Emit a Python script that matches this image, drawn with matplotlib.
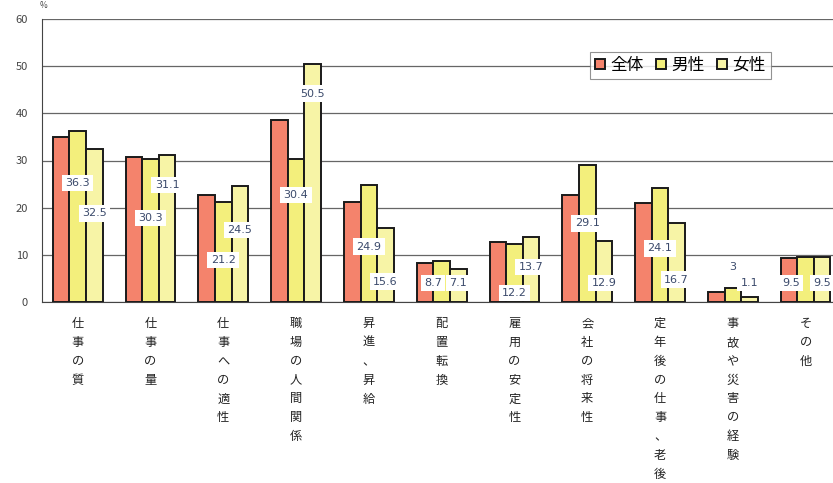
import matplotlib.pyplot as plt
import numpy as np

plt.rcParams['font.family'] = ['Noto Sans CJK JP', 'DejaVu Sans']

categories = ['仕事の質', '仕事の量', '仕事への適性', '職場の人間関係', '昇進、昇給',
              '配置転換', '雇用の安定性', '会社の将来性', '定年後の仕事、老後',
              '事故や災害の経験', 'その他']
total = [35.0, 30.7, 22.7, 38.6, 21.2, 8.2, 12.7, 22.7, 21.0, 2.1, 9.4]
male = [36.3, 30.3, 21.2, 30.4, 24.9, 8.7, 12.2, 29.1, 24.1, 3, 9.5]
female = [32.5, 31.1, 24.5, 50.5, 15.6, 7.1, 13.7, 12.9, 16.7, 1.1, 9.5]
series_names = ['全体', '男性', '女性']

# where the value boxes sit (y in data units, x shift in bar units), as in the original
label_y_male = [25.2, 17.8, 8.9, 22.7, 11.7, 4.0, 1.9, 16.7, 11.4, 7.4, 4.0]
label_y_female = [18.8, 24.8, 15.3, 44.2, 4.3, 4.0, 7.4, 4.0, 4.7, 4.0, 4.0]
label_dx_male = [0, 0, 0, 0, 0, -0.12, 0, 0, 0, 0, -0.2]

colors = ['#F4836C', '#F3EF7C', '#F7F4A6']

fig = plt.figure(figsize=(8.33, 4.83), dpi=100)
ax = fig.add_axes([42 / 833, 1 - 302 / 483, 800 / 833, 283 / 483])

x = np.arange(len(categories))
w = 0.228
for i, (vals, c) in enumerate(zip([total, male, female], colors)):
    ax.bar(x + (i - 1) * w, vals, w, color=c, edgecolor='#1a1a1a',
           linewidth=1.4, label=series_names[i], zorder=3)

box = dict(boxstyle='square,pad=0.3', fc='white', ec='none')
for i in range(len(categories)):
    ax.text(x[i] + label_dx_male[i], label_y_male[i], f'{male[i]:g}', ha='center',
            va='center', fontsize=8, color='#3b4a6b', bbox=box, zorder=5,
            family='DejaVu Sans')
    ax.text(x[i] + w, label_y_female[i], f'{female[i]:g}', ha='center', va='center',
            fontsize=8, color='#3b4a6b', bbox=box, zorder=6, family='DejaVu Sans')

ax.set_ylim(0, 60)
ax.set_xlim(-0.49, 10.5)
ax.set_yticks(range(0, 61, 10))
ax.tick_params(axis='y', labelsize=8, labelcolor='#444444', length=0, pad=10)
ax.yaxis.grid(True, color='#666666', linewidth=0.9, zorder=0)
ax.set_xticks(x)
ax.set_xticklabels(['\n'.join(c) for c in categories], fontsize=8.8,
                   va='top', linespacing=1.58, color='#222222')
ax.tick_params(axis='x', length=0, pad=11)
for s in ['top', 'right']:
    ax.spines[s].set_visible(False)
ax.spines['left'].set_color('#444444')
ax.spines['bottom'].set_color('#444444')

fig.text(40 / 833, 1 - 6 / 483, '%', fontsize=6, color='#444444', va='center')

leg = ax.legend(loc='upper left', bbox_to_anchor=(548 / 800, 1 - 33 / 283), ncol=3,
                fontsize=12, frameon=True, fancybox=False, edgecolor='#777777',
                handlelength=0.6, handleheight=0.6, handletextpad=0.35,
                columnspacing=0.7, borderpad=0.3, borderaxespad=0)
leg.get_frame().set_linewidth(0.8)

plt.savefig('out.png', dpi=100)
